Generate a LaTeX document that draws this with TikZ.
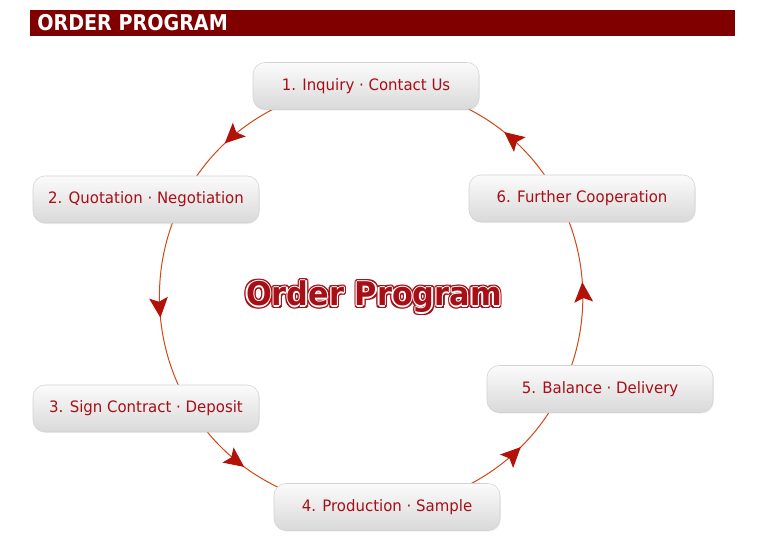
\documentclass[tikz,border=0pt]{standalone}
\usepackage{fontspec}
\setmainfont{DejaVu Sans}[FakeStretch=0.88]
\newfontfamily\boxfont{DejaVu Sans}[FakeStretch=0.95]
\newfontfamily\titlefont{DejaVu Sans}[FakeStretch=0.93]
\usetikzlibrary{arrows.meta,calc,backgrounds,decorations.markings,shadows}
\definecolor{barred}{HTML}{800000}
\definecolor{textred}{RGB}{168,14,22}
\definecolor{linered}{RGB}{210,70,20}
\definecolor{headred}{RGB}{178,18,8}

\begin{document}
\begin{tikzpicture}[x=0.75pt,y=0.75pt,
  stepbox/.style={draw=gray!35, rounded corners=9pt, top color=gray!3, bottom color=gray!30,
    minimum width=169.5pt, minimum height=35.25pt, inner sep=0pt, text=textred,
    font=\boxfont\fontsize{11.8}{14}\selectfont,
    drop shadow={opacity=0.12, shadow xshift=0.6pt, shadow yshift=-0.8pt}},
  flow/.style={draw=linered, line width=0.75pt, looseness=0.88, postaction={decorate},
    decoration={markings, mark=at position 0.57 with
      {\arrow{Stealth[length=15pt,width=14pt,inset=3pt,color=headred]}}}},
  bigtitle/.style={font=\titlefont\bfseries\fontsize{24.5}{28}\selectfont, inner sep=0pt}]
  \useasboundingbox (0,0) rectangle (778,550);
  % header bar
  \fill[barred] (30,514) rectangle (735,540);
  \node[anchor=west, text=white, font=\bfseries\fontsize{16.3}{19}\selectfont, inner sep=0pt]
    (head) at (37,527) {ORDER PROGRAM};
  % centre title: red letters with a white inline
  \coordinate (c) at (374,253);
  \foreach \ang in {0,30,...,330}
    \node[bigtitle, text=textred] at ($(c)+(\ang:2.6)$) {Order Program};
  \foreach \ang in {0,45,...,315}
    \node[bigtitle, text=white] at ($(c)+(\ang:1.2)$) {Order Program};
  \node[bigtitle, text=textred] (title) at (c) {Order Program};
  % the six steps
  \node[stepbox] (s1) at (366,464) {1. Inquiry · Contact Us};
  \node[stepbox] (s2) at (146,350.5) {2. Quotation · Negotiation};
  \node[stepbox] (s3) at (146,141.5) {3. Sign Contract · Deposit};
  \node[stepbox] (s4) at (387,43) {4. Production · Sample};
  \node[stepbox] (s5) at (600,161) {5. Balance · Delivery};
  \node[stepbox] (s6) at (582,351.5) {6. Further Cooperation};
  % ring of arrows behind the boxes
  \begin{scope}[on background layer]
    \draw[flow] ($(s1.south)+(-83,5.4)$) to[out=204.5,in=58] ($(s2.north)+(45.2,-8.7)$);
    \draw[flow] ($(s2.south)+(30.4,10.2)$) to[out=246.6,in=117.5] ($(s3.north)+(37,-9.9)$);
    \draw[flow] ($(s3.south)+(54.6,8.9)$) to[out=306.5,in=155.8] ($(s4.north)+(-102.6,-7)$);
    \draw[flow] ($(s4.north)+(73.6,-5.6)$) to[out=25,in=240] ($(s5.south)+(-45.4,9.5)$);
    \draw[flow] ($(s5.north)+(-32.4,-10.9)$) to[out=68,in=-66.3] ($(s6.south)+(-16.9,10.2)$);
    \draw[flow] ($(s6.north)+(-31.2,-9.7)$) to[out=122,in=-24.5] ($(s1.south)+(92.9,5.4)$);
  \end{scope}
\end{tikzpicture}
\end{document}
